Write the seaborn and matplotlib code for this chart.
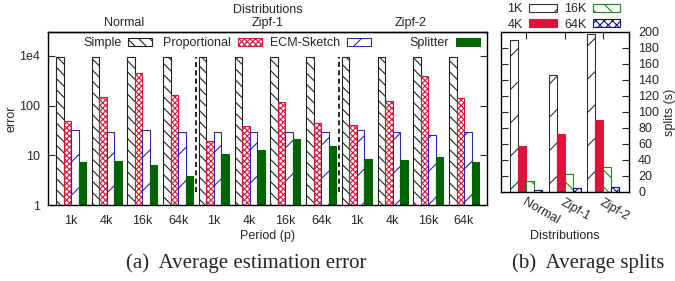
import numpy as np
import pandas as pd
import matplotlib.pyplot as plt
import seaborn as sns
from matplotlib.patches import Patch
from matplotlib.legend import Legend
from matplotlib.ticker import NullLocator

# --- data ---
dists = ["Normal", "Zipf-1", "Zipf-2"]
periods = ["1k", "4k", "16k", "64k"]
methods = ["Simple", "Proportional", "ECM-Sketch", "Splitter"]

# average estimation error, order: Normal 1k..64k, Zipf-1 1k..64k, Zipf-2 1k..64k
simple_err = [8700, 8700, 8700, 8700, 8700, 8700, 8700, 8700, 8700, 8700, 8700, 8700]
prop_err = [48, 220, 2100, 260, 19, 39, 140, 45, 40, 150, 1600, 200]
ecm_err = [33, 29, 32, 30, 30, 30, 30, 30, 32, 30, 26, 30]
splitter_err = [7.4, 7.7, 6.4, 3.8, 10.7, 12.9, 20.9, 15.5, 8.3, 8.0, 9.1, 7.3]

# average splits per distribution
split_sizes = ["1K", "4K", "16K", "64K"]
splits_1k = [190, 146, 197]
splits_4k = [58, 73, 90]
splits_16k = [14, 23, 31]
splits_64k = [3, 4.5, 6.6]

sns.set_style("ticks")
plt.rcParams["font.family"] = ["Liberation Sans", "DejaVu Sans"]
plt.rcParams["font.size"] = 9
plt.rcParams["hatch.linewidth"] = 0.8
plt.rcParams["axes.edgecolor"] = "black"
plt.rcParams["axes.linewidth"] = 1.0

W, H = 675, 281
fig = plt.figure(figsize=(W / 100, H / 100), dpi=100)


def box(x0, y0, x1, y1):
    # pixel box (top-left origin) -> figure fraction rect
    return [x0 / W, 1 - y1 / H, (x1 - x0) / W, (y1 - y0) / H]


ax = fig.add_axes(box(48, 32, 487, 205))
ax2 = fig.add_axes(box(501, 32, 629, 192))

RED = "#dc143c"
GREEN = "#006400"
BLUE = "#2a2aa8"

# ---------------- (a) estimation error ----------------
groups = [f"{d} {p}" for d in dists for p in periods]
err_df = pd.DataFrame({
    "group": groups * 4,
    "method": np.repeat(methods, len(groups)),
    "error": simple_err + prop_err + ecm_err + splitter_err,
})

err_style = {
    "Simple": dict(facecolor="white", edgecolor="#222222", hatch="\\\\\\"),
    "Proportional": dict(facecolor="white", edgecolor=RED, hatch="xxxxxx"),
    "ECM-Sketch": dict(facecolor="white", edgecolor=BLUE, hatch="/"),
    "Splitter": dict(facecolor=GREEN, edgecolor=GREEN, hatch=None),
}

sns.barplot(err_df, x="group", y="error", hue="method", order=groups,
            hue_order=methods, width=0.84, gap=0, saturation=1,
            errorbar=None, legend=False, ax=ax)
for cont, m in zip(ax.containers, methods):
    for bar in cont:
        bar.set(linewidth=0.8, **err_style[m])


def fwd(y):
    ly = np.log10(np.clip(y, 1e-6, None))
    return np.where(ly <= 2, ly, 2 + (ly - 2) / 2)


def inv(v):
    v = np.asarray(v, dtype=float)
    return np.where(v <= 2, 10.0 ** v, 10.0 ** (2 + 2 * (v - 2)))


ax.set_yscale("function", functions=(fwd, inv))
ax.set_ylim(1, float(inv(3.48)))
ax.set_yticks([1, 10, 100, 1e4], ["1", "10", "100", "1e4"])
ax.yaxis.set_minor_locator(NullLocator())
ax.set_xlim(-0.644, 11.643)
ax.set_xticks(range(len(groups)), periods * len(dists))
ax.tick_params(axis="x", length=0, pad=7)
ax.tick_params(axis="y", direction="in", length=5, left=True, right=True, pad=6)
ax.set_xlabel("Period (p)", labelpad=2)
ax.set_ylabel("error", labelpad=1)

for xsep in [3.5, 7.5]:
    ax.axvline(xsep, ymin=0.075, ymax=0.855, color="black", lw=1.2, ls=(0, (3, 2)))

top = ax.secondary_xaxis("top")
top.set_xticks([1.5, 5.5, 9.5], dists)
top.tick_params(length=0, pad=2)
top.set_xlabel("Distributions", labelpad=3)

# one legend per entry, text right-aligned against its swatch
legend_right = [152, 262, 371, 480]
for m, xr in zip(methods, legend_right):
    h = Patch(linewidth=0.8, **err_style[m])
    leg = Legend(ax, [h], [m], loc="center right",
                 bbox_to_anchor=(xr / W, 1 - 43 / H), bbox_transform=fig.transFigure,
                 frameon=False, markerfirst=False, handlelength=1.95,
                 handleheight=0.6, handletextpad=0.5, borderpad=0, borderaxespad=0)
    ax.add_artist(leg)

# ---------------- (b) splits ----------------
split_df = pd.DataFrame({
    "dist": dists * 4,
    "size": np.repeat(split_sizes, len(dists)),
    "splits": splits_1k + splits_4k + splits_16k + splits_64k,
})
split_style = {
    "1K": dict(facecolor="white", edgecolor="#333333", hatch="/"),
    "4K": dict(facecolor=RED, edgecolor=RED, hatch=None),
    "16K": dict(facecolor="white", edgecolor="#1a8a1a", hatch="\\\\"),
    "64K": dict(facecolor="white", edgecolor="#10108a", hatch="xxxx"),
}
sns.barplot(split_df, x="dist", y="splits", hue="size", order=dists,
            hue_order=split_sizes, width=0.83, gap=0, saturation=1,
            errorbar=None, legend=False, ax=ax2)
for cont, s in zip(ax2.containers, split_sizes):
    for bar in cont:
        bar.set(linewidth=0.8, **split_style[s])

ax2.set_xlim(-0.646, 2.661)
ax2.set_ylim(0, 200)
ax2.set_yticks(range(0, 201, 20))
ax2.tick_params(axis="y", direction="in", length=5, left=True, right=True,
                labelleft=False, labelright=True, pad=6.5)
ax2.tick_params(axis="x", direction="in", length=5, top=True, bottom=True, pad=3)
for lab in ax2.get_xticklabels():
    lab.set(rotation=-30, ha="left", va="top", rotation_mode="anchor")
ax2.set_xlabel("Distributions")
ax2.xaxis.set_label_coords(0.5, -0.235)
ax2.set_ylabel("splits (s)")
ax2.yaxis.set_label_position("right")
ax2.yaxis.set_label_coords(1.27, 0.5)

handles = [Patch(linewidth=0.8, **split_style[s]) for s in split_sizes]
ax2.legend(handles=handles, labels=split_sizes, ncol=2, loc="upper right",
           bbox_to_anchor=(620 / W, 1 - 3 / H), bbox_transform=fig.transFigure,
           frameon=False, markerfirst=False, handlelength=2.2, handleheight=0.6,
           handletextpad=0.5, columnspacing=0.6, labelspacing=0.3,
           borderpad=0, borderaxespad=0)

# captions
fig.text(246 / W, 1 - 263 / H, "(a)  Average estimation error", ha="center",
         va="center", family="Liberation Serif", size=15)
fig.text(588 / W, 1 - 263 / H, "(b)  Average splits", ha="center",
         va="center", family="Liberation Serif", size=15)

fig.savefig("out.png", dpi=100)
